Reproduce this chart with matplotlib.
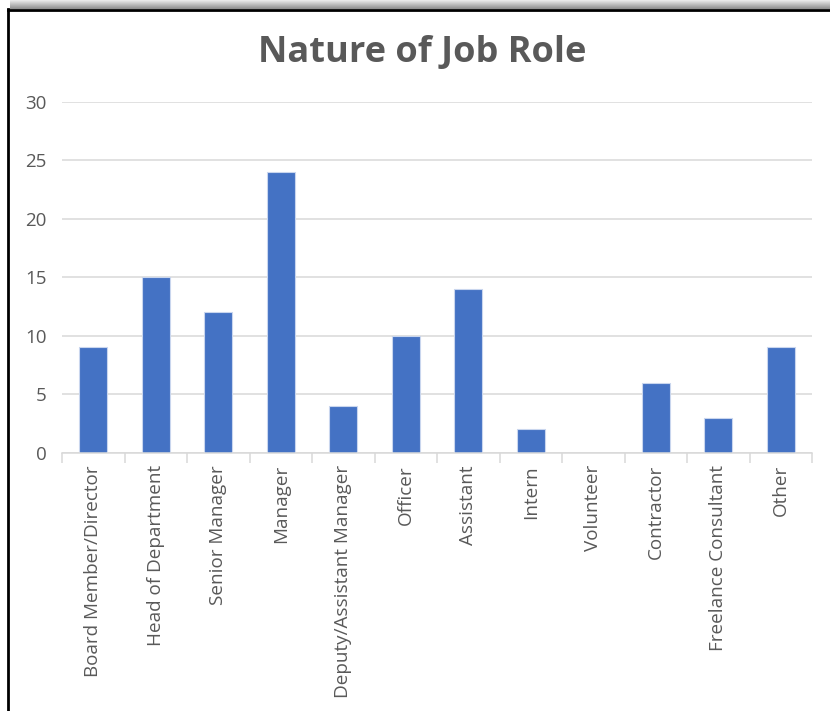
import numpy as np
import matplotlib
matplotlib.use("Agg")
import matplotlib.pyplot as plt

roles = ["Board Member/Director", "Head of Department", "Senior Manager", "Manager",
         "Deputy/Assistant Manager", "Officer", "Assistant", "Intern", "Volunteer",
         "Contractor", "Freelance Consultant", "Other"]
counts = [9, 15, 12, 24, 4, 10, 14, 2, 0, 6, 3, 9]
y_ticks = [0, 5, 10, 15, 20, 25, 30]

W, H = 830, 711
fig = plt.figure(figsize=(W / 100, H / 100), dpi=100)
fig.patch.set_facecolor("white")

text_grey = "#595959"
font = "Open Sans"

# window shadow along the top edge
shadow_ax = fig.add_axes([10 / W, 1 - 9 / H, 1 - 10 / W, 9 / H])
grad = np.linspace(0.93, 0.55, 64).reshape(-1, 1)
shadow_ax.imshow(grad, cmap="gray", vmin=0, vmax=1, aspect="auto",
                 extent=[0, 1, 0, 1], origin="upper")
shadow_ax.axis("off")

# frame around the chart
fig.add_artist(plt.Line2D([7.5 / W, 7.5 / W], [0, 1 - 9 / H], color="black", lw=2,
                          transform=fig.transFigure))
fig.add_artist(plt.Line2D([7.5 / W, 1], [1 - 10 / H, 1 - 10 / H], color="black", lw=2,
                          transform=fig.transFigure))

ax = fig.add_axes([62 / W, 1 - 452.7 / H, (812 - 62) / W, (452.7 - 102) / H])
x = np.arange(len(roles))
ax.bar(x, counts, width=0.45, color="#4472C4", edgecolor="#c9d6ee", linewidth=0.8,
       zorder=3)

ax.set_xlim(-0.5, len(roles) - 0.5)
ax.set_ylim(0, 30)
ax.set_yticks(y_ticks)
ax.yaxis.grid(True, color="#d9d9d9", lw=1.1, zorder=0)
ax.set_axisbelow(True)
for s in ["top", "right", "left"]:
    ax.spines[s].set_visible(False)
ax.spines["bottom"].set_color("#d9d9d9")
ax.spines["bottom"].set_linewidth(1.1)
ax.spines["bottom"].set_zorder(4)

ax.tick_params(axis="y", length=0, pad=11, labelsize=13.5, labelcolor=text_grey)
ax.set_xticks(x)
ax.set_xticklabels(roles, rotation=90, fontsize=13.6, color=text_grey, family=font)
ax.tick_params(axis="x", which="major", length=0, pad=9)
ax.set_xticks(np.arange(-0.5, len(roles)), minor=True)
ax.tick_params(axis="x", which="minor", length=7, color="#d9d9d9", width=1.1)
for lab in ax.get_yticklabels():
    lab.set_family(font)

fig.text(422 / W, 1 - 62 / H, "Nature of Job Role", ha="center", va="baseline",
         fontsize=26, fontweight="bold", color=text_grey, family=font)

fig.savefig("out.png", dpi=100, facecolor="white")
